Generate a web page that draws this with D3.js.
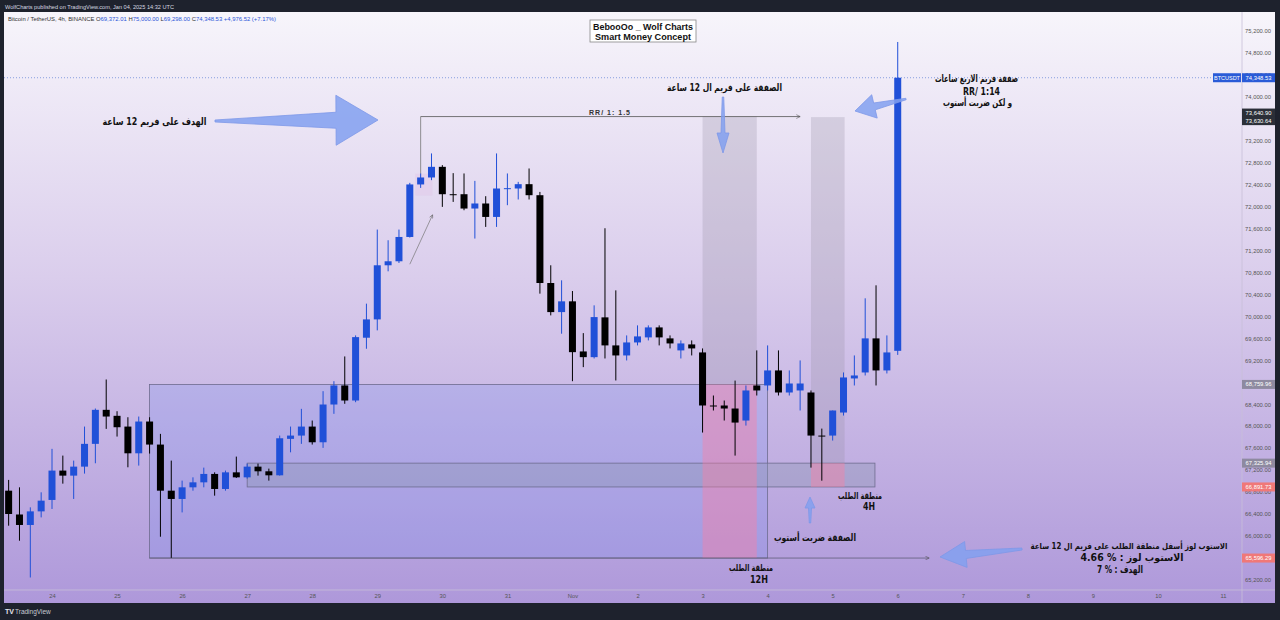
<!DOCTYPE html>
<html><head><meta charset="utf-8">
<script src="https://cdn.jsdelivr.net/npm/d3@7"></script>
<style>html,body{margin:0;padding:0;background:#1e222d;} svg{display:block;}</style>
</head><body>
<svg id="c" width="1280" height="620"></svg>
<script>
// ---- DATA ----
const firstCandle = "2024-10-23T08:00:00Z"; // 4h candles
const opens  = [66824,66390,66199,66447,66655,67190,67098,67262,67677,68297,68188,67992,67505,68084,67664,66824,66673,66885,66976,67129,66855,67158,67067,67262,67177,67104,67768,67828,67992,67706,68394,68741,68467,69611,69945,70931,71004,71447,72404,72531,72725,72226,72226,71965,72057,71812,72327,72330,72409,72208,70608,70078,70274,69361,69257,69982,69471,69288,69525,69617,69799,69599,69380,69489,69343,68376,68376,68321,68102,68741,68741,69015,68613,68650,68613,67828,67828,68248,68869,68978,69599,69015,69372.01];
const highs  = [67020,66885,66520,66794,67586,67463,67372,67992,68321,68850,68272,68162,68175,68162,67859,67372,67007,67067,67244,67158,67190,67445,67317,67317,67226,67828,67992,68315,68102,68637,68819,69270,69653,70232,71582,71387,71582,72433,72604,72969,72756,72610,72604,72469,72190,72969,72604,72451,72695,72268,70931,70657,70462,69695,70201,71606,70474,69653,69836,69836,69836,69653,69562,69562,69416,68558,68467,68830,68741,69380,69471,69380,69015,69197,68650,67955,68285,68978,69288,70329,70566,69653,75000.00];
const lows   = [66186,65912,65242,66337,66491,66952,66673,67135,67323,67950,67810,67250,67281,67500,65985,65600,66428,66824,66885,66733,66824,67056,67043,67098,67007,67098,67523,67677,67664,67604,68224,68407,68436,69410,69745,70821,70973,71436,72341,72482,71995,72086,71934,71418,71630,71630,72026,72130,72130,70414,70018,69684,68819,69075,69233,69233,68832,69197,69471,69562,69471,69416,69233,69288,67883,68285,68102,67463,68010,68558,68650,68558,68558,68285,67244,67006,67737,68193,68741,68923,68741,68960,69298.00];
const closes = [66399,66199,66447,66642,67190,67098,67262,67677,68297,68175,67980,67505,68084,67664,66824,66673,66885,66976,67129,66855,67158,67067,67262,67177,67104,67779,67828,67992,67706,68394,68741,68467,69622,69945,70931,71004,71447,72404,72531,72725,72226,72218,71965,72057,71812,72330,72336,72409,72208,70608,70078,70274,69348,69257,69987,69471,69288,69525,69635,69799,69617,69507,69507,69416,68376,68367,68321,68065,68650,68650,69015,68613,68777,68777,67828,67818,68285,68887,68923,69599,69015,69343,74348.53];

const dayDates  = ["2024-10-24","2024-10-25","2024-10-26","2024-10-27","2024-10-28","2024-10-29","2024-10-30","2024-10-31","2024-11-01","2024-11-02","2024-11-03","2024-11-04","2024-11-05","2024-11-06","2024-11-07","2024-11-08","2024-11-09","2024-11-10","2024-11-11"];
const dayLabels = ["24","25","26","27","28","29","30","31","Nov","2","3","4","5","6","7","8","9","10","11"];
const priceTicks = [65200,65600,66000,66400,66800,67200,67600,68000,68400,68800,69200,69600,70000,70400,70800,71200,71600,72000,72400,72800,73200,73600,74000,74400,74800,75200];

// key price levels
const entry12H = 68759.96, stop12H = 65596.29, target12H = 73640.90;
const entry4H = 67325.94, stop4H = 66891.73, target4H = 73630.64;
const lastPrice = 74348.53;

// ---- SCALES ----
const svg = d3.select("#c");
const W = 1280, H = 620;
const x = d3.scaleUtc().domain([new Date("2024-10-24T00:00:00Z"), new Date("2024-11-11T00:00:00Z")]).range([52, 1223]);
const y = d3.scaleLinear().domain([65200, 75200]).range([579.8, 31]);
const t0 = new Date(firstCandle).getTime();
const candles = opens.map((o,i)=>({t:new Date(t0 + i*4*3600*1000), o, h:highs[i], l:lows[i], c:closes[i]}));
const tAt = k => new Date(t0 + k*4*3600*1000); // time at candle index k (for drawings)

const sans = "Liberation Sans, Arial, sans-serif";

// ---- BACKGROUND ----
const defs = svg.append("defs");
const g1 = defs.append("linearGradient").attr("id","bg").attr("x1",0).attr("y1",0).attr("x2",0).attr("y2",1);
g1.append("stop").attr("offset","0%").attr("stop-color","#f7f5fb");
g1.append("stop").attr("offset","45%").attr("stop-color","#dacdec");
g1.append("stop").attr("offset","100%").attr("stop-color","#ae98da");
svg.append("rect").attr("width",W).attr("height",H).attr("fill","#1e222d");
svg.append("rect").attr("x",4).attr("y",12).attr("width",1271).attr("height",591).attr("fill","url(#bg)");
svg.append("line").attr("x1",1242).attr("x2",1242).attr("y1",12).attr("y2",603).attr("stroke","#c8bfd8").attr("stroke-width",0.8);
svg.append("line").attr("x1",4).attr("x2",1275).attr("y1",590).attr("y2",590).attr("stroke","#c8bfd8").attr("stroke-width",0.8);

// header texts
svg.append("text").attr("x",5).attr("y",8.5).attr("fill","#d6d8e0").attr("font-family",sans).attr("font-size",5.6).text("WolfCharts published on TradingView.com, Jan 04, 2025 14:32 UTC");
const hdr = svg.append("text").attr("x",8).attr("y",21).attr("font-family",sans).attr("font-size",5.9).attr("fill","#333");
hdr.append("tspan").text("Bitcoin / TetherUS, 4h, BINANCE  ");
[["O","69,372.01"],["H","75,000.00"],["L","69,298.00"],["C","74,348.53"]].forEach(([k,v])=>{
  hdr.append("tspan").attr("fill","#333").text(" "+k);
  hdr.append("tspan").attr("fill","#2a55d8").text(v);
});
hdr.append("tspan").attr("fill","#2a55d8").text(" +4,976.52 (+7.17%)");

// ---- DRAWINGS (behind candles) ----
svg.append("rect").attr("x",x(tAt(13))).attr("y",y(entry12H)).attr("width",x(tAt(70))-x(tAt(13))).attr("height",y(stop12H)-y(entry12H))
  .attr("fill","rgba(110,135,240,0.22)").attr("stroke","#6e6c8e").attr("stroke-width",0.8);
svg.append("rect").attr("x",x(tAt(22))).attr("y",y(entry4H)).attr("width",x(tAt(79.9))-x(tAt(22))).attr("height",y(stop4H)-y(entry4H))
  .attr("fill","rgba(140,150,180,0.38)").attr("stroke","#6e6c8e").attr("stroke-width",0.8);
function longPos(k1,k2,entry,stop,target){
  svg.append("rect").attr("x",x(tAt(k1))).attr("y",y(target)).attr("width",x(tAt(k2))-x(tAt(k1))).attr("height",y(entry)-y(target)).attr("fill","rgba(150,145,165,0.28)");
  svg.append("rect").attr("x",x(tAt(k1))).attr("y",y(entry)).attr("width",x(tAt(k2))-x(tAt(k1))).attr("height",y(stop)-y(entry)).attr("fill","rgba(255,125,160,0.40)");
}
longPos(64,69,entry12H,stop12H,target12H);
longPos(74,77.1,entry4H,stop4H,target4H);

defs.append("marker").attr("id","ah").attr("viewBox","0 0 10 10").attr("refX",9).attr("refY",5).attr("markerWidth",6).attr("markerHeight",6).attr("orient","auto")
  .append("path").attr("d","M1,1 L9,5 L1,9").attr("fill","none").attr("stroke","#555").attr("stroke-width",1.2);
svg.append("line").attr("x1",x(tAt(13))).attr("x2",x(tAt(84.9))).attr("y1",y(stop12H)).attr("y2",y(stop12H)).attr("stroke","#5f5d78").attr("stroke-width",0.8).attr("marker-end","url(#ah)");
svg.append("line").attr("x1",x(tAt(38))).attr("x2",x(tAt(73))).attr("y1",y(target12H)).attr("y2",y(target12H)).attr("stroke","#555").attr("stroke-width",0.8).attr("marker-end","url(#ah)");
svg.append("line").attr("x1",x(tAt(38))).attr("x2",x(tAt(38))).attr("y1",y(target12H)).attr("y2",y(72450)).attr("stroke","#777").attr("stroke-width",0.8);
svg.append("rect").attr("x",x(tAt(37.5))).attr("y",y(72600)).attr("width",x(tAt(39.1))-x(tAt(37.5))).attr("height",y(72200)-y(72600)).attr("fill","rgba(225,205,235,0.75)");
svg.append("line").attr("x1",x(tAt(37))).attr("y1",y(70950)).attr("x2",x(tAt(39.1))).attr("y2",y(71850)).attr("stroke","#777").attr("stroke-width",0.7).attr("marker-end","url(#ah)");

svg.append("line").attr("x1",4).attr("x2",1242).attr("y1",y(lastPrice)).attr("y2",y(lastPrice)).attr("stroke","#5c7fd6").attr("stroke-width",0.7).attr("stroke-dasharray","1,2");

// ---- CANDLES ----
const cw = 7;
const cg = svg.append("g");
cg.selectAll("line.w").data(candles).join("line").attr("class","w")
  .attr("x1",d=>x(d.t)).attr("x2",d=>x(d.t)).attr("y1",d=>y(d.h)).attr("y2",d=>y(d.l))
  .attr("stroke",d=>d.c>=d.o?"#2050d8":"#000").attr("stroke-width",1);
cg.selectAll("rect.b").data(candles).join("rect").attr("class","b")
  .attr("x",d=>x(d.t)-cw/2).attr("width",cw)
  .attr("y",d=>y(Math.max(d.o,d.c))).attr("height",d=>Math.max(1,Math.abs(y(d.o)-y(d.c))))
  .attr("fill",d=>d.c>=d.o?"#2050d8":"#000");

// ---- BLOCK ARROWS ----
function blockArrow(x1,y1,x2,y2,tailW,shaftW,headW,headL){
  const L = Math.hypot(x2-x1,y2-y1), a = Math.atan2(y2-y1,x2-x1);
  const pts = [[0,-tailW/2],[L-headL,-shaftW/2],[L-headL,-headW/2],[L,0],[L-headL,headW/2],[L-headL,shaftW/2],[0,tailW/2]]
    .map(([u,v])=>[x1+u*Math.cos(a)-v*Math.sin(a), y1+u*Math.sin(a)+v*Math.cos(a)]);
  svg.append("path").attr("d","M"+pts.map(p=>p.join(",")).join("L")+"Z").attr("fill","rgba(130,160,240,0.85)").attr("stroke","#7d98e8").attr("stroke-width",0.8);
}
blockArrow(215,121,378,120,2,16,50,42);
blockArrow(723,97,723,153,1.5,4,12,20);
blockArrow(906,99,855,111,1.5,7,24,20);
blockArrow(1022,549,940,557,2,8,26,26);
blockArrow(810,523,810,497,1.5,3,10,11);

// ---- TEXTS ----
const ar = "DejaVu Sans, sans-serif";
function t(cx,by,s,size,w){
  const el = svg.append("text").attr("x",cx).attr("y",by).attr("font-family",ar).attr("font-weight","bold").attr("font-size",size)
    .attr("text-anchor","middle").attr("fill","#111").text(s);
  if (w) el.attr("textLength",w).attr("lengthAdjust","spacingAndGlyphs");
  return el;
}
t(154.5,124.5,"الهدف على فريم  12 ساعة",10,104);
t(724.5,91,"الصفقة على فريم ال 12 ساعة",10,115);
svg.append("text").attr("x",589).attr("y",114.5).attr("font-family",sans).attr("font-size",7).attr("font-weight","bold").attr("fill","#333").attr("textLength",41).text("RR/  1: 1.5");
t(976.5,82,"صفقة فريم الاربع ساعات",10,83);
t(981.5,95,"RR/ 1:14",10.5,37);
t(977.5,106,"و لكن ضربت أستوب",10,69);
t(860,498.5,"منطقة الطلب",9.5,44);
t(869,509.5,"4H",10,12);
t(815,541,"الصفقة ضربت أستوب",10,82);
t(751,570.5,"منطقة الطلب",9.5,44);
t(759,582.5,"12H",10,18);
t(1129,549,"الاستوب لوز أسفل منطقة الطلب على فريم ال 12 ساعة",8.5,197);
t(1132,560.5,"4.66 %  : الاستوب لوز",10,103);
t(1120,572.5,"7 % : الهدف",10,46);

// title box
svg.append("rect").attr("x",590).attr("y",20).attr("width",106).attr("height",22).attr("fill","#fff").attr("stroke","#888").attr("stroke-width",0.8);
svg.append("text").attr("x",643).attr("y",29.5).attr("text-anchor","middle").attr("font-family",sans).attr("font-weight","bold").attr("font-size",9.5).attr("fill","#111").attr("textLength",100).attr("lengthAdjust","spacingAndGlyphs").text("BebooOo _ Wolf Charts");
svg.append("text").attr("x",643).attr("y",39.5).attr("text-anchor","middle").attr("font-family",sans).attr("font-weight","bold").attr("font-size",9.5).attr("fill","#111").attr("textLength",96).attr("lengthAdjust","spacingAndGlyphs").text("Smart Money Concept");

// ---- AXES ----
const yAx = svg.append("g").attr("transform","translate(1244,0)")
  .call(d3.axisRight(y).tickValues(priceTicks).tickSize(0).tickPadding(0).tickFormat(d3.format(",.2f")));
yAx.select(".domain").remove();
yAx.selectAll("text").attr("x",14).attr("text-anchor","middle").attr("font-family",sans).attr("font-size",5.8).attr("fill","#555");

const xAx = svg.append("g").attr("transform","translate(0,590)")
  .call(d3.axisBottom(x).tickValues(dayDates.map(d=>new Date(d+"T00:00:00Z"))).tickSize(0).tickPadding(4).tickFormat((d,i)=>dayLabels[i]));
xAx.select(".domain").remove();
xAx.selectAll("text").attr("font-family",sans).attr("font-size",5.8).attr("fill","#555");

const specials = [
  {v:lastPrice, bg:"#2a5bd7", fg:"#fff"},
  {v:target12H, bg:"#2b2f38", fg:"#fff", dy:-3.5},
  {v:target4H, bg:"#2b2f38", fg:"#fff", dy:3.5},
  {v:entry12H, bg:"#8e8aa0", fg:"#fff"},
  {v:entry4H, bg:"#8e8aa0", fg:"#fff"},
  {v:stop4H, bg:"#f07878", fg:"#fff"},
  {v:stop12H, bg:"#f07878", fg:"#fff"}
];
specials.forEach(s=>{
  const yy = y(s.v) + (s.dy||0);
  svg.append("rect").attr("x",1242).attr("y",yy-4.5).attr("width",33).attr("height",9).attr("fill",s.bg);
  svg.append("text").attr("x",1258.5).attr("y",yy+2).attr("text-anchor","middle").attr("font-family",sans).attr("font-size",5.8).attr("fill",s.fg).text(d3.format(",.2f")(s.v));
});
svg.append("rect").attr("x",1213).attr("y",y(lastPrice)-4.5).attr("width",28).attr("height",9).attr("fill","#2a5bd7");
svg.append("text").attr("x",1227).attr("y",y(lastPrice)+2).attr("text-anchor","middle").attr("font-family",sans).attr("font-size",5.5).attr("fill","#fff").text("BTCUSDT");

svg.append("text").attr("x",5).attr("y",614).attr("font-family",sans).attr("font-weight","bold").attr("font-size",7).attr("fill","#e6e8ee").text("TV");
svg.append("text").attr("x",15).attr("y",614).attr("font-family",sans).attr("font-size",6.5).attr("fill","#c9ccd4").text("TradingView");
</script>
</body></html>
